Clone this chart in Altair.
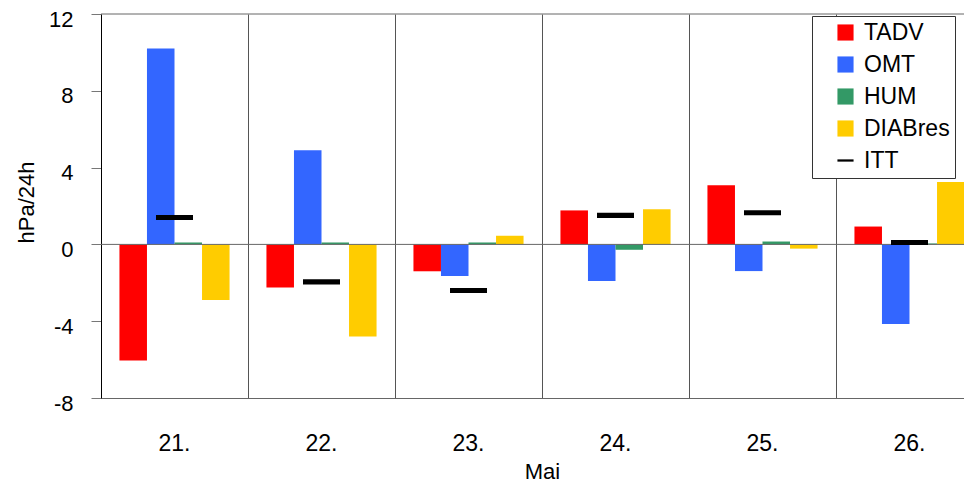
import altair as alt
import pandas as pd

days = ["21.", "22.", "23.", "24.", "25.", "26."]
bar_series = ["TADV", "OMT", "HUM", "DIABres"]
all_series = ["TADV", "OMT", "HUM", "DIABres", "ITT"]
colors = ["#FF0000", "#3366FF", "#339966", "#FFCC00", "#000000"]

tadv = [-6.05, -2.25, -1.4, 1.77, 3.08, 0.93]
omt = [10.2, 4.9, -1.65, -1.9, -1.39, -4.14]
hum = [0.1, 0.1, 0.1, -0.28, 0.15, 0.05]
diabres = [-2.9, -4.8, 0.45, 1.83, -0.22, 3.25]
itt = [1.4, -1.95, -2.4, 1.51, 1.65, 0.1]

rows = []
for name, vals in zip(bar_series, [tadv, omt, hum, diabres]):
    for d, v in zip(days, vals):
        rows.append({"day": d, "series": name, "value": v})
df_bars = pd.DataFrame(rows)
df_itt = pd.DataFrame({"day": days, "series": "ITT", "value": itt})

FONT = "Liberation Sans"
DASH_PATH = "M-1,-0.14H1V0.14H-1Z"

x_scale = alt.Scale(domain=days, range=[0, 882], paddingInner=0, paddingOuter=0)
y_scale = alt.Scale(domain=[-8, 12], nice=False, zero=False)
color_scale = alt.Scale(domain=all_series, range=colors)
shape_scale = alt.Scale(domain=all_series, range=["square", "square", "square", "square", DASH_PATH])

x_axis = alt.Axis(
    title="Mai", labelAngle=0, labelFontSize=23, labelFont=FONT, labelColor="#000",
    labelBaseline="alphabetic", labelPadding=52, ticks=False, tickSize=0,
    grid=True, gridColor="#555555", gridWidth=1, bandPosition=0,
    domainColor="#666666", titleFontSize=22, titleFont=FONT, titleFontWeight="normal",
    titleColor="#000", titleBaseline="alphabetic", titleX=441, titleY=80,
)
y_axis = alt.Axis(
    title="hPa/24h", values=[-8, -4, 0, 4, 8, 12], labelFontSize=22, labelFont=FONT,
    labelColor="#000", labelPadding=18, labelOffset=5, tickSize=10, tickColor="#777777",
    labelExpr="'' + datum.value",
    domainColor="#000000", grid=False, titleFontSize=22, titleFont=FONT,
    titleFontWeight="normal", titleColor="#000", titleAngle=-90,
    titleBaseline="alphabetic", titleAlign="center", titleX=-68, titleY=188,
)

legend = alt.Legend(
    title=None, orient="none", legendX=711, legendY=2, direction="vertical",
    labelFontSize=23, labelFont=FONT, labelColor="#000",
    symbolSize=260, symbolOffset=17, labelOffset=7, rowPadding=8, padding=5,
    strokeColor="#333333", fillColor="white", symbolStrokeWidth=0, symbolOpacity=1,
)

bars = alt.Chart(df_bars).mark_bar(opacity=1).encode(
    x=alt.X("day:N", scale=x_scale, axis=x_axis, sort=days),
    xOffset=alt.XOffset("series:N", scale=alt.Scale(domain=bar_series, paddingInner=0, paddingOuter=0.67)),
    y=alt.Y("value:Q", scale=y_scale, axis=y_axis),
    color=alt.Color("series:N", scale=color_scale, legend=legend),
)

zero = alt.Chart(pd.DataFrame({"v": [0]})).mark_rule(color="#666666", strokeWidth=1).encode(
    y=alt.Y("v:Q", scale=y_scale)
)
top = alt.Chart(pd.DataFrame({"v": [12]})).mark_rule(color="#666666", strokeWidth=1).encode(
    y=alt.Y("v:Q", scale=y_scale)
)

itt_marks = alt.Chart(df_itt).mark_point(size=1369, filled=True, opacity=1, strokeWidth=0).encode(
    x=alt.X("day:N", scale=x_scale, sort=days),
    y=alt.Y("value:Q", scale=y_scale),
    color=alt.Color("series:N", scale=color_scale, legend=legend),
    shape=alt.Shape("series:N", scale=shape_scale, legend=legend),
)

chart = alt.layer(bars, zero, itt_marks, top).properties(
    width=863, height=384,
    autosize=alt.AutoSizeParams(type="none"),
    padding={"left": 93, "top": 6, "right": 0, "bottom": 86},
    background="white",
).configure_view(stroke=None)

chart.save("out.html", embed_options={"renderer": "svg", "actions": False})
